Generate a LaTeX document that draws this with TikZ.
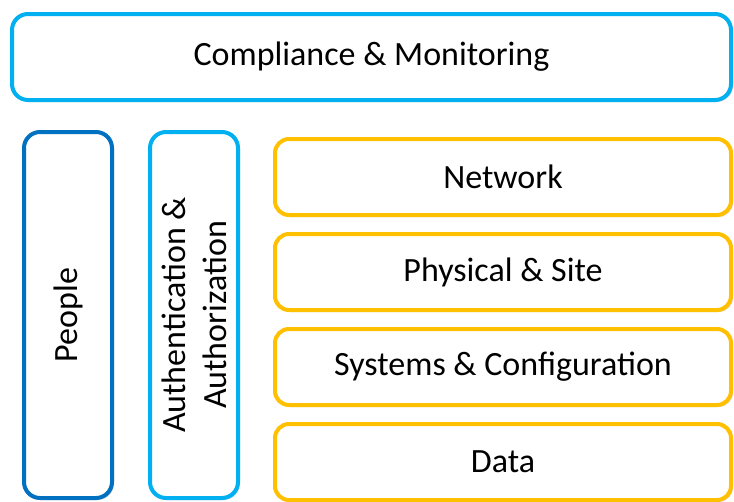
\documentclass[tikz,border=0pt]{standalone}
\usepackage{fontspec}
\setmainfont{Carlito}
\usepackage{tikz}
\usetikzlibrary{positioning, shadows}
\usepackage{xcolor}
\definecolor{secLightBlue}{HTML}{00B0F0}
\definecolor{secDarkBlue}{HTML}{0070C0}
\definecolor{secYellow}{HTML}{FFC000}

\begin{document}
\begin{tikzpicture}[
        x=1pt, y=-1pt,
        font=\fontsize{34}{41}\selectfont,
        layer/.style={
          rectangle, rounded corners=16pt,
          line width=4pt, fill=white, align=center,
          inner sep=0pt,
          drop shadow={opacity=0.25, shadow xshift=2pt, shadow yshift=-2pt}
        },
        umbrella/.style={layer, draw=secLightBlue,
          minimum width=719pt, minimum height=86pt},
        pillar/.style={layer, minimum width=88pt, minimum height=366pt},
        zonebox/.style={layer, draw=secYellow, rounded corners=14pt,
          minimum width=456pt, minimum height=76pt}
      ]

      % Marco
      \useasboundingbox (0,0) rectangle (734,501);

      % Capa superior
      \node[umbrella] (comp) at (371.5,57) {Compliance \& Monitoring};

      % Columnas verticales
      \node[pillar, draw=secDarkBlue] (people) at (68,315) {};
      \node[rotate=90] (peopleTxt) at (people.center) {People};
      \node[pillar, draw=secLightBlue, right=34pt of people] (auth) {};
      \node[rotate=90, align=center] (authTxt) at (auth.center) {Authentication \&\\Authorization};

      % Dominios
      \node[zonebox] (net) at (503,177) {Network};
      \node[zonebox, below=15pt of net] (phys) {Physical \& Site};
      \node[zonebox, below=15pt of phys] (sys) {Systems \& Configuration};
      \node[zonebox, below=15pt of sys] (data) {Data};

    \end{tikzpicture}
\end{document}
